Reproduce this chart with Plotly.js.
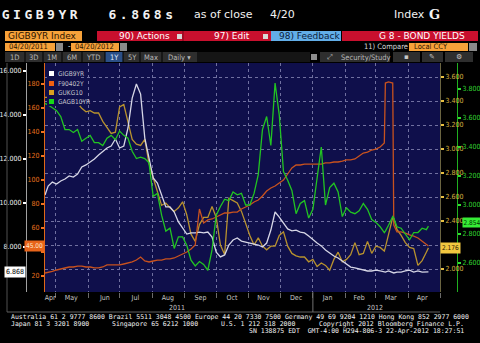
<!DOCTYPE html>
<html><head><meta charset="utf-8">
<script src="https://cdn.plot.ly/plotly-3.0.1.min.js"></script>
<style>
html,body{margin:0;padding:0;background:#000;overflow:hidden;}
#chart{width:480px;height:343px;}
.annotation[data-index="0"] text,.annotation[data-index="1"] text{letter-spacing:3.5px;}
</style></head><body><div id="chart"></div><script>
// ---------------- data ----------------
const dates = ['2011-04-21','2011-04-24','2011-04-28','2011-05-02','2011-05-06','2011-05-10','2011-05-14','2011-05-18','2011-05-22','2011-05-26',
'2011-05-30','2011-06-03','2011-06-07','2011-06-11','2011-06-15','2011-06-19','2011-06-23','2011-06-27','2011-07-01','2011-07-05',
'2011-07-09','2011-07-13','2011-07-17','2011-07-21','2011-07-25','2011-07-29','2011-08-02','2011-08-06','2011-08-10','2011-08-14',
'2011-08-18','2011-08-22','2011-08-26','2011-08-30','2011-09-03','2011-09-07','2011-09-11','2011-09-15','2011-09-19','2011-09-23',
'2011-09-27','2011-10-01','2011-10-05','2011-10-09','2011-10-13','2011-10-17','2011-10-21','2011-10-25','2011-10-29','2011-11-02',
'2011-11-06','2011-11-10','2011-11-14','2011-11-18','2011-11-22','2011-11-26','2011-11-30','2011-12-04','2011-12-08','2011-12-12',
'2011-12-16','2011-12-20','2011-12-24','2011-12-28','2012-01-01','2012-01-05','2012-01-09','2012-01-13','2012-01-17','2012-01-21',
'2012-01-25','2012-01-29','2012-02-02','2012-02-06','2012-02-10','2012-02-14','2012-02-18','2012-02-22','2012-02-26','2012-03-01',
'2012-03-05','2012-03-09','2012-03-10','2012-03-13','2012-03-17','2012-03-18','2012-03-21','2012-03-25','2012-03-29','2012-04-02',
'2012-04-06','2012-04-10','2012-04-14','2012-04-18','2012-04-20'];

const gigb9yr = [10.36,10.77,10.95,10.86,11.00,11.09,11.23,11.18,11.32,11.64,
11.73,11.86,12.00,12.18,12.32,12.50,12.59,12.91,12.50,12.59,
13.41,14.77,15.41,14.95,12.95,12.09,11.14,10.91,10.36,9.82,
9.82,9.59,9.14,8.86,8.59,8.64,8.64,8.68,8.64,8.68,
8.45,7.77,7.55,7.64,8.09,8.32,8.41,8.27,8.23,8.18,
8.14,8.09,8.00,8.18,8.77,9.59,9.36,9.09,8.82,8.73,
8.77,8.68,8.64,8.50,8.32,8.18,8.05,7.86,7.73,7.59,
7.50,7.36,7.23,7.09,7.05,7.00,6.95,6.91,6.91,6.95,
6.91,6.86,6.86,6.91,6.82,6.82,6.86,6.86,6.91,6.95,
6.86,6.91,6.86,6.86,6.868];

const f90402y = [22.5,22.9,23.8,25.0,25.8,26.7,27.5,27.5,28.3,28.3,
27.5,27.5,26.7,26.7,27.5,29.2,29.2,29.2,29.2,30.0,
30.8,31.7,33.3,35.8,32.5,31.7,32.5,33.3,33.3,34.2,
34.2,35.0,36.7,38.3,40.0,42.5,45.8,75.8,64.2,66.7,
67.5,69.2,70.8,72.5,72.5,73.3,73.3,75.8,77.5,79.2,
81.7,83.3,86.7,90.8,93.3,95.0,97.5,100.0,105.0,110.0,
112.5,112.5,113.3,113.3,113.3,113.3,113.3,114.2,114.2,115.0,
115.0,115.8,116.7,116.7,117.5,120.0,122.5,123.3,125.0,125.8,
127.5,130.8,180.8,181.7,180.8,62.5,56.7,56.7,55.8,54.2,
53.3,51.7,49.2,46.7,45.0];

const gukg10 = [3.43,3.43,3.44,3.42,3.43,3.41,3.43,3.40,3.38,3.34,
3.31,3.32,3.30,3.30,3.23,3.18,3.13,3.14,3.35,3.37,
3.23,3.08,3.04,3.03,3.08,2.88,2.76,2.65,2.53,2.55,
2.51,2.48,2.51,2.56,2.45,2.29,2.23,2.37,2.43,2.43,
2.52,2.43,2.20,2.12,2.59,2.57,2.55,2.48,2.38,2.28,
2.20,2.26,2.19,2.16,2.19,2.19,2.28,2.31,2.19,2.13,
2.11,2.10,2.10,2.06,2.08,2.02,2.05,2.03,1.99,2.08,
2.14,2.06,2.08,2.12,2.22,2.12,2.13,2.23,2.13,2.19,
2.18,2.15,2.18,2.28,2.43,2.42,2.33,2.28,2.22,2.18,
2.17,2.03,2.07,2.14,2.176];

const gagb10yr = [3.70,3.69,3.67,3.65,3.61,3.52,3.52,3.50,3.52,3.44,
3.46,3.48,3.43,3.43,3.41,3.46,3.48,3.45,3.51,3.48,
3.46,3.37,3.32,3.33,3.32,3.29,3.06,3.08,2.93,2.82,
2.84,2.70,2.78,2.78,2.72,2.62,2.58,2.61,2.59,2.55,
2.69,2.93,2.99,3.04,3.03,3.09,3.07,3.08,3.00,3.00,
3.08,3.21,3.52,3.61,3.41,3.84,3.62,3.23,3.17,3.10,
2.94,3.01,3.03,2.91,2.97,3.17,3.40,3.00,3.12,3.15,
3.09,2.92,2.98,2.95,2.94,2.96,3.01,2.97,2.90,2.88,
2.85,2.81,2.82,2.86,2.92,2.91,2.85,2.84,2.80,2.76,
2.81,2.81,2.84,2.83,2.854];

const seriesNames = ['GIGB9YR','F90402Y','GUKG10','GAGB10YR'];
const monthTickDates = ['2011-04-26','2011-05-16','2011-06-17','2011-07-16','2011-08-16','2011-09-16','2011-10-16','2011-11-15','2011-12-16','2012-01-15','2012-02-14','2012-03-15','2012-04-14'];
const monthLabels = ['Apr','May','Jun','Jul','Aug','Sep','Oct','Nov','Dec','Jan','Feb','Mar','Apr'];
const yearLabelDates = ['2011-08-25','2012-02-29'];
const yearLabels = ['2011','2012'];
const whiteTicks = [8,10,12,14,16];
const whiteTickText = ['8.000','10.000','12.000','14.000','16.000'];
const orangeTicks = [20,40,60,80,100,120,140,160,180];
const orangeTickText = ['20','','60','80','100','120','140','160','180']; // 40 hidden under the last-value tag
const goldTicks = [2.0,2.2,2.4,2.6,2.8,3.0,3.2,3.4,3.6];
const goldTickText = ['2.000','','2.400','2.600','2.800','3.000','3.200','3.400','3.600']; // 2.200 hidden under tag
const greenTicks = [2.6,2.8,3.0,3.2,3.4,3.6,3.8];
const greenTickText = ['2.600','2.800','3.000','3.200','3.400','3.600','3.800'];

// ---------------- helpers ----------------
const W=480,H=343;
const px = x => x/W, py = y => 1 - y/H;
const NARROW = '"Liberation Sans Narrow","DejaVu Sans Condensed","Arial Narrow",sans-serif';
const SANS = '"DejaVu Sans",sans-serif';
const COND = '"DejaVu Sans Condensed","Liberation Sans Narrow",sans-serif';
const MONO = '"DejaVu Sans Mono",monospace';
const last = a => a[a.length-1];
const C = {white:'#d6d6e6', orange:'#c8521e', gold:'#b8922e', green:'#22c422'};

function rect(x0,y0,x1,y1,fill,lineColor){
  return {type:'rect',xref:'paper',yref:'paper',x0:px(x0),x1:px(x1),y0:py(y1),y1:py(y0),
    fillcolor:fill,line:{width:lineColor?1:0,color:lineColor||fill},layer:'above'};
}
function vline(x,y0,y1,color,dash){
  return {type:'line',xref:'paper',yref:'paper',x0:px(x),x1:px(x),y0:py(y0),y1:py(y1),line:{color:color,width:1,dash:dash||'solid'},layer:'above'};
}
function hline(x0,x1,y,color){
  return {type:'line',xref:'paper',yref:'paper',x0:px(x0),x1:px(x1),y0:py(y),y1:py(y),line:{color:color,width:1},layer:'above'};
}
function txt(x,y,t,size,color,family,anchor,extra){
  return Object.assign({xref:'paper',yref:'paper',x:px(x),y:py(y),text:t,showarrow:false,
    xanchor:anchor||'left',yanchor:'middle',font:{family:family||COND,size:size||8,color:color||'#fff'}},extra||{});
}

// ---------------- traces ----------------
const traces = [
  {x:dates,y:gukg10,yaxis:'y',name:seriesNames[2],mode:'lines',line:{color:C.gold,width:1.3},hoverinfo:'skip'},
  {x:dates,y:gigb9yr,yaxis:'y2',name:seriesNames[0],mode:'lines',line:{color:C.white,width:1.3},hoverinfo:'skip'},
  {x:dates,y:f90402y,yaxis:'y3',name:seriesNames[1],mode:'lines',line:{color:C.orange,width:1.3},hoverinfo:'skip'},
  {x:dates,y:gagb10yr,yaxis:'y4',name:seriesNames[3],mode:'lines',line:{color:C.green,width:1.3},hoverinfo:'skip'}
];

// ---------------- annotations ----------------
const ann = [];
ann.push(txt(12,14,'GIGB9YR',13,'#f2f2f2',MONO,'left',{font:{family:MONO,size:13,color:'#f2f2f2',weight:'bold'}}));
ann.push(txt(117,14,last(gigb9yr).toFixed(3)+'s',13,'#f2f2f2',MONO,'left',{font:{family:MONO,size:13,color:'#f2f2f2',weight:'bold'}}));
ann.push(txt(192,14,'as of close',11,'#f2f2f2',SANS));
ann.push(txt(268,14,'4/20',11,'#f2f2f2',SANS));
ann.push(txt(392,14,'Index',11,'#f2f2f2',SANS));
ann.push(txt(427,14,'G',13,'#f2f2f2','"DejaVu Serif",serif','left',{font:{family:'"DejaVu Serif",serif',size:13,color:'#f2f2f2',weight:'bold'}}));
// toolbar row 1
ann.push(txt(6,36,'GIGB9YR Index',9,'#2a1200',SANS));
ann.push(txt(117,36,'90) Actions',9,'#ffffff',SANS));
ann.push(txt(212,36,'97) Edit',9,'#ffffff',SANS));
ann.push(txt(277,36,'98) Feedback',9,'#0c1c3c',SANS));
ann.push(txt(467,36,'G 8 - BOND YIELDS',9,'#ffffff',SANS,'right'));
// toolbar row 2
ann.push(txt(7,47,'04/20/2011',7.5,'#2a1200',COND));
ann.push(txt(66,47,'-',8,'#d0d0d0',COND));
ann.push(txt(73,47,'04/20/2012',7.5,'#2a1200',COND));
ann.push(txt(362,47,'11) Compare',7.5,'#d8d8d8',COND));
ann.push(txt(412,47,'Local CCY',7.5,'#2a1200',COND));
// toolbar row 3
[['1D',15],['3D',34],['1M',52],['6M',72],['YTD',93],['1Y',114],['5Y',132],['Max',151],['Daily ▾',179]].forEach(b=>{
  ann.push(txt(b[1],57,b[0],7.5,b[0]==='1Y'?'#dfe8ff':'#b8b8b8',COND,'center'));
});
ann.push(txt(339,57,'Security/Study',7.5,'#b8b8b8',COND));
ann.push(txt(330,57,'⤢',7,'#b8b8b8',SANS,'center'));
ann.push(txt(406,57,'▪',7,'#c8c8c8',SANS,'center'));
ann.push(txt(432,57,'✎',7,'#c8c8c8',SANS,'center'));
ann.push(txt(459,57,'⚙',7,'#c8c8c8',SANS,'center'));
// legend
const swatch = ['#ffffff','#f06010','#d8a020','#18d818'];
const legY = [73.5,83.5,92.5,101.5];
seriesNames.forEach((n,i)=>ann.push(txt(56,legY[i],n,6.5,'#c4c4cc',NARROW)));
// year labels
yearLabels.forEach((t,i)=>ann.push({xref:'x',yref:'paper',x:yearLabelDates[i],y:py(308),text:t,showarrow:false,
  xanchor:'center',yanchor:'middle',font:{family:NARROW,size:7,color:'#c8c8c8'}}));
// current value tags
ann.push({xref:'paper',x:px(26),xanchor:'right',yref:'y2',y:last(gigb9yr),yanchor:'middle',text:last(gigb9yr).toFixed(3),
  showarrow:false,bgcolor:'#ffffff',borderpad:1,font:{family:NARROW,size:7,color:'#000'}});
ann.push({xref:'paper',x:px(45),xanchor:'right',yref:'y3',y:last(f90402y),yanchor:'middle',text:last(f90402y).toFixed(2),
  showarrow:false,bgcolor:'#e8641a',borderpad:1,font:{family:NARROW,size:6.5,color:'#ffe6cc'}});
ann.push({xref:'paper',x:px(440),xanchor:'left',yref:'y',y:last(gukg10),yanchor:'middle',text:last(gukg10).toFixed(3),
  showarrow:false,bgcolor:'#f2c840',borderpad:1,font:{family:NARROW,size:6.5,color:'#2a2000'}});
ann.push({xref:'paper',x:px(462),xanchor:'left',yref:'y4',y:last(gagb10yr),yanchor:'bottom',yshift:-1.5,text:last(gagb10yr).toFixed(3),
  showarrow:false,bgcolor:'#36ec36',borderpad:0.5,font:{family:NARROW,size:6.5,color:'#003000'}});
// footer
const fcol = '#f0f0f0';
ann.push(txt(9,317,'Australia 61 2 9777 8600 Brazil 5511 3048 4500 Europe 44 20 7330 7500 Germany 49 69 9204 1210 Hong Kong 852 2977 6000',6.5,fcol,MONO));
ann.push(txt(9,324,'Japan 81 3 3201 8900',6.5,fcol,MONO));
ann.push(txt(110,324,'Singapore 65 6212 1000',6.5,fcol,MONO));
ann.push(txt(219,324,'U.S. 1 212 318 2000',6.5,fcol,MONO));
ann.push(txt(466,324,'Copyright 2012 Bloomberg Finance L.P.',6.5,fcol,MONO,'right'));
ann.push(txt(466,331,'SN 138875 EDT\u00a0\u00a0GMT-4:00 H294-806-3 22-Apr-2012 18:27:51',6.5,fcol,MONO,'right'));

// ---------------- shapes ----------------
const shp = [];
shp.push(rect(5,31,82,41,'#f7a23a'));
shp.push(rect(97,31,183,41,'#c8102e'));
shp.push(rect(183,31,271,41,'#c8102e'));
shp.push(vline(183,31,41,'#7a0818'));
shp.push(rect(177,34,182,39,'#d8d8d8'));
shp.push(rect(263,34,268,39,'#d8d8d8'));
shp.push(rect(271,31,341,41,'#62aee8'));
shp.push(rect(342,31,478,41,'#c8102e'));
shp.push(rect(5,43,55,51,'#f7a23a'));
shp.push(rect(56,43,63,51,'#8a8a8a'));
shp.push(rect(71,43,119,51,'#f7a23a'));
shp.push(rect(120,43,127,51,'#8a8a8a'));
shp.push(rect(409,43,468,51,'#f7a23a'));
shp.push(rect(469,43,477,51,'#8a8a8a'));
shp.push(rect(5,52,197,62,'#2e2e2e'));
shp.push(rect(105,52,123,62,'#2b4f86'));
[25,43,62,82,105,123,140,162].forEach(x=>shp.push(vline(x,52,62,'#000')));
shp.push(rect(197,52,310,62,'#151515'));
shp.push(rect(311,54,317,60,'#8c8c8c'));
shp.push(rect(320,52,390,62,'#2e2e2e'));
shp.push(rect(393,52,420,62,'#2e2e2e'));
shp.push(rect(422,52,443,62,'#2e2e2e'));
shp.push(rect(445,52,473,62,'#2e2e2e'));
shp.push(rect(47,67,80,106,'#0f0f4b'));
legY.forEach((y,i)=>shp.push(rect(49,y-2.5,54,y+2.5,swatch[i])));
shp.push(vline(7,63,312,'#505050'));
shp.push(hline(7,440,312,'#606060'));
shp.push({type:'line',xref:'x',yref:'paper',x0:'2012-01-01',x1:'2012-01-01',y0:py(312),y1:py(292),line:{color:'#707070',width:1},layer:'above'});

// ---------------- layout ----------------
const dom = [py(292), py(63)];
const tf = (c)=>({family:NARROW,size:7,color:c});
const layout = {
  width:480,height:343,margin:{l:0,r:0,t:0,b:0},
  paper_bgcolor:'#000',plot_bgcolor:'#0f0f4b',showlegend:false,
  xaxis:{domain:[px(45),px(440)],type:'date',range:['2011-04-21','2012-05-01'],
    tickmode:'array',tickvals:monthTickDates,ticktext:monthLabels,ticks:'',showgrid:false,zeroline:false,showline:false,
    tickfont:tf('#c8c8c8'),
    minor:{tickmode:'linear',tick0:'2011-05-01',dtick:'M1',showgrid:true,gridcolor:'#7070a0',griddash:'dot',gridwidth:1,
      ticks:'outside',ticklen:5,tickcolor:'#6a6a6a',tickwidth:1}},
  yaxis:{domain:dom,side:'right',anchor:'x',range:[1.8083,3.7167],tickmode:'array',tickvals:goldTicks,ticktext:goldTickText,
    ticks:'outside',ticklen:3,tickwidth:2,tickcolor:'#e8c040',tickfont:tf('#d8b040'),
    showgrid:true,gridcolor:'#7070a0',griddash:'dot',gridwidth:1,showline:true,linecolor:'#6a6440',zeroline:false},
  yaxis2:{overlaying:'y',side:'left',anchor:'free',position:px(26),range:[5.9545,16.3636],tickmode:'array',tickvals:whiteTicks,ticktext:whiteTickText,
    ticks:'outside',ticklen:3,tickwidth:2,tickcolor:'#ffffff',tickfont:tf('#f0f0f0'),showgrid:false,showline:true,linecolor:'#a0a0a0',zeroline:false},
  yaxis3:{overlaying:'y',side:'left',anchor:'x',range:[6.67,197.5],tickmode:'array',tickvals:orangeTicks,ticktext:orangeTickText,
    ticks:'outside',ticklen:3,tickwidth:2,tickcolor:'#f07020',tickfont:tf('#e8701e'),showgrid:false,showline:true,linecolor:'#e06818',zeroline:false},
  yaxis4:{overlaying:'y',side:'right',anchor:'free',position:px(457),range:[2.4,3.979],tickmode:'array',tickvals:greenTicks,ticktext:greenTickText,
    ticks:'outside',ticklen:3,tickwidth:2,tickcolor:'#30e030',tickfont:tf('#30d030'),showgrid:false,showline:true,linecolor:'#20b020',zeroline:false},
  shapes:shp,annotations:ann
};
Plotly.newPlot('chart',traces,layout,{displayModeBar:false,staticPlot:true});
</script></body></html>
